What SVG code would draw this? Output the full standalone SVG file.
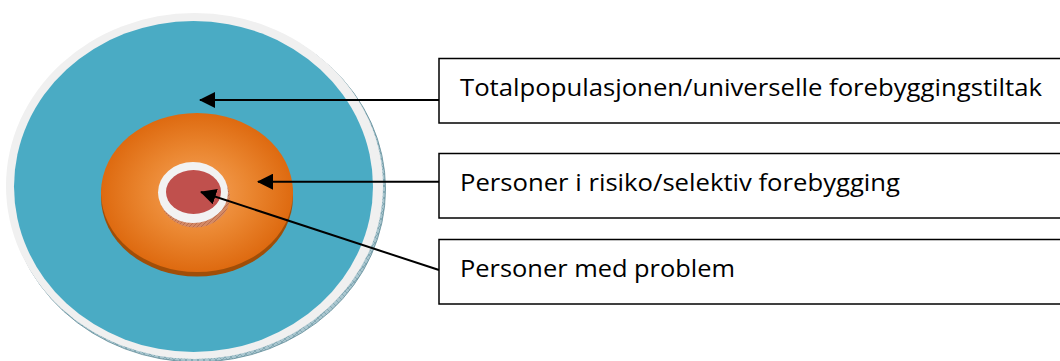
<svg xmlns="http://www.w3.org/2000/svg" width="1060" height="361" viewBox="0 0 1060 361">
  <defs>
    <radialGradient id="orangeGrad" cx="0.5" cy="0.5" r="0.5">
      <stop offset="0" stop-color="#f7a45c"/>
      <stop offset="0.55" stop-color="#ea8630"/>
      <stop offset="1" stop-color="#de6a10"/>
    </radialGradient>
    <pattern id="rimPat" width="6" height="6" patternUnits="userSpaceOnUse">
      <rect width="6" height="6" fill="#a9c6cf"/>
      <path d="M0 6 L6 0 M0 0 L6 6" stroke="#6d97a3" stroke-width="0.6"/>
    </pattern>
    <pattern id="ringPat" width="4" height="4" patternUnits="userSpaceOnUse">
      <rect width="4" height="4" fill="#d48a66"/>
      <path d="M0 4 L4 0" stroke="#a85a3c" stroke-width="0.6"/>
    </pattern>
    <marker id="arrow" viewBox="0 0 16 16" refX="15" refY="8" markerWidth="16" markerHeight="16" markerUnits="userSpaceOnUse" orient="auto">
      <path d="M0 0 L16 8 L0 16 Z" fill="#000"/>
    </marker>
    <style>
      .box { fill: #fff; stroke: #000; stroke-width: 1.5; }
      .label { font-family: "Open Sans", Lato, sans-serif; font-size: 24.5px; fill: #000; }
      .conn { stroke: #000; stroke-width: 2; fill: none; marker-end: url(#arrow); }
    </style>
  </defs>

  <g id="disk-outer">
    <ellipse cx="197" cy="189" rx="188.5" ry="173" fill="url(#rimPat)" stroke="#5f8c98" stroke-width="0.8"/>
    <ellipse cx="194.5" cy="186" rx="188.5" ry="173" fill="#f0f0f0"/>
    <ellipse cx="193.5" cy="186.5" rx="179.5" ry="165.5" fill="#4aabc4"/>
  </g>

  <g id="disk-middle">
    <ellipse cx="197" cy="197" rx="96" ry="79.5" fill="#a04e08"/>
    <ellipse cx="197" cy="192.5" rx="96" ry="79.5" fill="url(#orangeGrad)"/>
  </g>

  <g id="disk-inner">
    <ellipse cx="195" cy="197" rx="35" ry="30.5" fill="url(#ringPat)"/>
    <ellipse cx="193" cy="192.5" rx="35" ry="30.5" fill="#f2f2f2"/>
    <ellipse cx="193.5" cy="192" rx="27.5" ry="22" fill="#c0504d"/>
  </g>

  <g id="connectors">
    <line class="conn" x1="439" y1="100" x2="200" y2="100"/>
    <line class="conn" x1="439" y1="181.7" x2="258" y2="181.7"/>
    <line class="conn" x1="439" y1="270" x2="201" y2="192"/>
  </g>

  <g id="node-total">
    <rect class="box" x="439" y="58.5" width="630" height="64.5"/>
    <text class="label" x="460" y="96" textLength="582" lengthAdjust="spacingAndGlyphs">Totalpopulasjonen/universelle forebyggingstiltak</text>
  </g>
  <g id="node-risiko">
    <rect class="box" x="439" y="153.5" width="630" height="64.5"/>
    <text class="label" x="460" y="191" textLength="440" lengthAdjust="spacingAndGlyphs">Personer i risiko/selektiv forebygging</text>
  </g>
  <g id="node-problem">
    <rect class="box" x="439" y="239.5" width="630" height="64.5"/>
    <text class="label" x="460" y="277" textLength="275" lengthAdjust="spacingAndGlyphs">Personer med problem</text>
  </g>
</svg>
